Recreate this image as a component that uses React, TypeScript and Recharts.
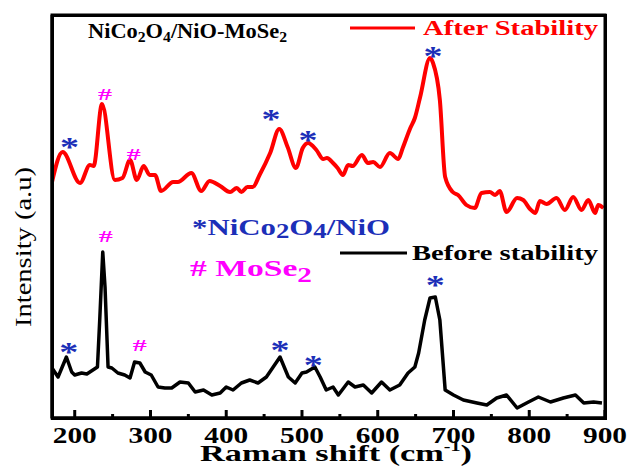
import { ComposedChart, Line, Scatter, XAxis, YAxis } from 'recharts';

// Raman shift (cm-1) and intensity (a.u.)
const afterShift = [170, 184, 207, 220, 225, 236, 253, 263, 273, 282, 291, 299, 306, 314, 330, 336, 354, 367, 378, 392, 405, 414, 420, 428, 435, 444, 458, 470, 481, 492, 501, 508, 519, 528, 533, 541, 547, 554, 561, 567, 579, 587, 594, 603, 616, 627, 633, 643, 649, 656, 669, 673, 682, 689, 699, 706, 717, 728, 737, 748, 755, 761, 770, 784, 792, 801, 808, 814, 823, 836, 847, 858, 869, 878, 887, 891, 898];
const afterIntensity = [236, 266, 235, 253, 252, 314, 238, 240, 258, 238, 252, 243, 243, 227, 236, 236, 245, 227, 237, 232, 226, 230, 226, 231, 231, 243, 265, 289, 271, 250, 270, 275, 268, 259, 260, 255, 250, 243, 253, 252, 263, 255, 256, 251, 265, 259, 270, 290, 300, 321, 360, 355, 318, 241, 226, 223, 213, 210, 225, 226, 223, 227, 206, 220, 218, 209, 205, 217, 214, 220, 208, 221, 208, 218, 205, 213, 210];

const beforeShift = [170, 178, 189, 196, 200, 209, 216, 224, 230, 233, 237, 240, 244, 249, 257, 266, 273, 279, 286, 293, 301, 310, 319, 328, 339, 350, 359, 370, 381, 392, 400, 409, 420, 431, 442, 453, 462, 471, 482, 491, 500, 506, 517, 524, 532, 541, 548, 561, 570, 581, 592, 605, 616, 629, 640, 649, 654, 662, 669, 676, 682, 689, 700, 713, 731, 744, 757, 770, 784, 799, 812, 828, 845, 861, 872, 885, 896];
const beforeIntensity = [50, 41, 61, 46, 43, 45, 44, 48, 51, 98, 166, 131, 51, 50, 45, 43, 40, 56, 55, 46, 43, 31, 30, 30, 36, 35, 26, 28, 23, 25, 31, 28, 35, 38, 35, 41, 51, 61, 41, 35, 45, 46, 51, 41, 28, 31, 23, 36, 31, 33, 25, 36, 28, 33, 45, 51, 65, 98, 120, 121, 98, 28, 23, 18, 15, 13, 20, 23, 10, 16, 21, 16, 20, 23, 15, 16, 15];

// peak markers: * = NiCo2O4/NiO, # = MoSe2
const markShift = [193, 240, 278, 459, 508, 673, 192, 241, 286, 471, 515, 676];
const markLevel = [275, 324, 264, 303, 282, 366, 70, 182, 73, 72, 57, 137];
const markSymbol = ['*', '#', '#', '*', '*', '*', '*', '#', '#', '*', '*', '*'];

const xTicks = [200, 300, 400, 500, 600, 700, 800, 900];
const xMinorTicks = [250, 350, 450, 550, 650, 750, 850];

const afterData = afterShift.map((x, i) => ({ x, y: afterIntensity[i] }));
const beforeData = beforeShift.map((x, i) => ({ x, y: beforeIntensity[i] }));
const markData = markShift.map((x, i) => ({ x, y: markLevel[i], sym: markSymbol[i] }));

const serif = '"Liberation Serif", "Times New Roman", serif';
const blue = '#1c2fb8';
const magenta = '#ff00ff';

// plot box (matches chart margins below)
const W = 627, H = 466;
const M = { top: 15, right: 22, left: 52, bottom: 48 };
const X_MIN = 170, X_MAX = 900;
const plotLeft = M.left, plotRight = W - M.right, plotTop = M.top, plotBottom = H - M.bottom;
const tickX = (v: number) => plotLeft + ((v - X_MIN) / (X_MAX - X_MIN)) * (plotRight - plotLeft);

const RamanTick = ({ x, y, payload }) => (
  <text x={x} y={y + 25} textAnchor="middle" fontFamily={serif} fontWeight="bold" fontSize={24}
    textLength={44} lengthAdjust="spacingAndGlyphs" fill="#000">
    {payload.value}
  </text>
);

const MarkShape = ({ cx, cy, payload }) => {
  if (payload.sym === '*') {
    return (
      <text x={cx} y={cy + 13} textAnchor="middle" fontFamily={serif} fontWeight="bold" fontSize={28}
        textLength={19} lengthAdjust="spacingAndGlyphs" fill={blue}>*</text>
    );
  }
  return (
    <text x={cx} y={cy + 6} textAnchor="middle" fontFamily={serif} fontWeight="bold" fontSize={17}
      textLength={14} lengthAdjust="spacingAndGlyphs" fill={magenta}>#</text>
  );
};

const Overlay = () => (
  <svg width={W} height={H} style={{ position: 'absolute', left: 0, top: 0, pointerEvents: 'none' }}>
    <rect x={plotLeft} y={plotTop} width={plotRight - plotLeft} height={plotBottom - plotTop}
      fill="none" stroke="#000" strokeWidth={3} />
    {xTicks.map((t) => (
      <line key={t} x1={tickX(t)} x2={tickX(t)} y1={plotBottom} y2={plotBottom - 8} stroke="#000" strokeWidth={3} />
    ))}
    {xMinorTicks.map((t) => (
      <line key={t} x1={tickX(t)} x2={tickX(t)} y1={plotBottom} y2={plotBottom - 4} stroke="#000" strokeWidth={3} />
    ))}
    <g fontFamily={serif} fontWeight="bold">
      <text x={88} y={38} fontSize={20} fill="#000" textLength={199} lengthAdjust="spacingAndGlyphs">
        NiCo<tspan fontSize={14} dy={4}>2</tspan><tspan dy={-4}>O</tspan><tspan fontSize={14} dy={4}>4</tspan><tspan dy={-4}>/NiO-MoSe</tspan><tspan fontSize={14} dy={4}>2</tspan>
      </text>
      <line x1={350} x2={415} y1={28} y2={28} stroke="#ff0000" strokeWidth={3} />
      <text x={423} y={35} fontSize={20} fill="#ff0000" textLength={175} lengthAdjust="spacingAndGlyphs">After Stability</text>

      <text x={192} y={235} fontSize={23} fill={blue} textLength={198} lengthAdjust="spacingAndGlyphs">
        *NiCo<tspan fontSize={20} dy={3}>2</tspan><tspan dy={-3}>O</tspan><tspan fontSize={20} dy={3}>4</tspan><tspan dy={-3}>/NiO</tspan>
      </text>
      <text x={190} y={276} fontSize={23} fill={magenta} textLength={122} lengthAdjust="spacingAndGlyphs">
        # MoSe<tspan fontSize={20} dy={6}>2</tspan>
      </text>
      <line x1={340} x2={407} y1={253} y2={253} stroke="#000" strokeWidth={3} />
      <text x={412} y={260} fontSize={20} fill="#000" textLength={186} lengthAdjust="spacingAndGlyphs">Before stability</text>

      <text x={200} y={461} fontSize={24} fill="#000" textLength={272} lengthAdjust="spacingAndGlyphs">
        Raman shift (cm<tspan fontSize={14} dy={-10}>-1</tspan><tspan dy={10}>)</tspan>
      </text>
    </g>
    <text transform="translate(31,247) rotate(-90)" textAnchor="middle" fontFamily={serif} fontSize={24}
      fill="#000" textLength={160} lengthAdjust="spacingAndGlyphs">Intensity (a.u)</text>
  </svg>
);

export default function App() {
  return (
    <div style={{ position: 'absolute', left: 0, top: 0, width: W, height: H, background: '#fff' }}>
      <ComposedChart width={W} height={H} margin={{ top: M.top, right: M.right, left: 0, bottom: 0 }}>
        <XAxis dataKey="x" type="number" domain={[X_MIN, X_MAX]} allowDataOverflow ticks={xTicks} height={M.bottom}
          tickSize={0} tickMargin={0} tickLine={false} axisLine={{ stroke: '#000', strokeWidth: 3 }}
          tick={<RamanTick />} interval={0} />
        <YAxis dataKey="y" type="number" domain={[0, 403]} allowDataOverflow width={M.left} tick={false}
          tickLine={false} axisLine={{ stroke: '#000', strokeWidth: 3 }} />
        <Line data={afterData} dataKey="y" type="monotone" stroke="#ff0000" strokeWidth={4} dot={false}
          isAnimationActive={false} strokeLinejoin="round" />
        <Line data={beforeData} dataKey="y" type="linear" stroke="#000" strokeWidth={3.5} dot={false}
          isAnimationActive={false} strokeLinejoin="round" />
        <Scatter data={markData} dataKey="y" shape={<MarkShape />} isAnimationActive={false} />
      </ComposedChart>
      {/* plot frame drawn as a bordered box as well, so it shows whatever the svg does */}
      <div style={{
        position: 'absolute', left: plotLeft - 1.5, top: plotTop - 1.5, width: plotRight - plotLeft + 3,
        height: plotBottom - plotTop + 3, border: '3px solid #000', boxSizing: 'border-box', pointerEvents: 'none',
      }} />
      <Overlay />
    </div>
  );
}
